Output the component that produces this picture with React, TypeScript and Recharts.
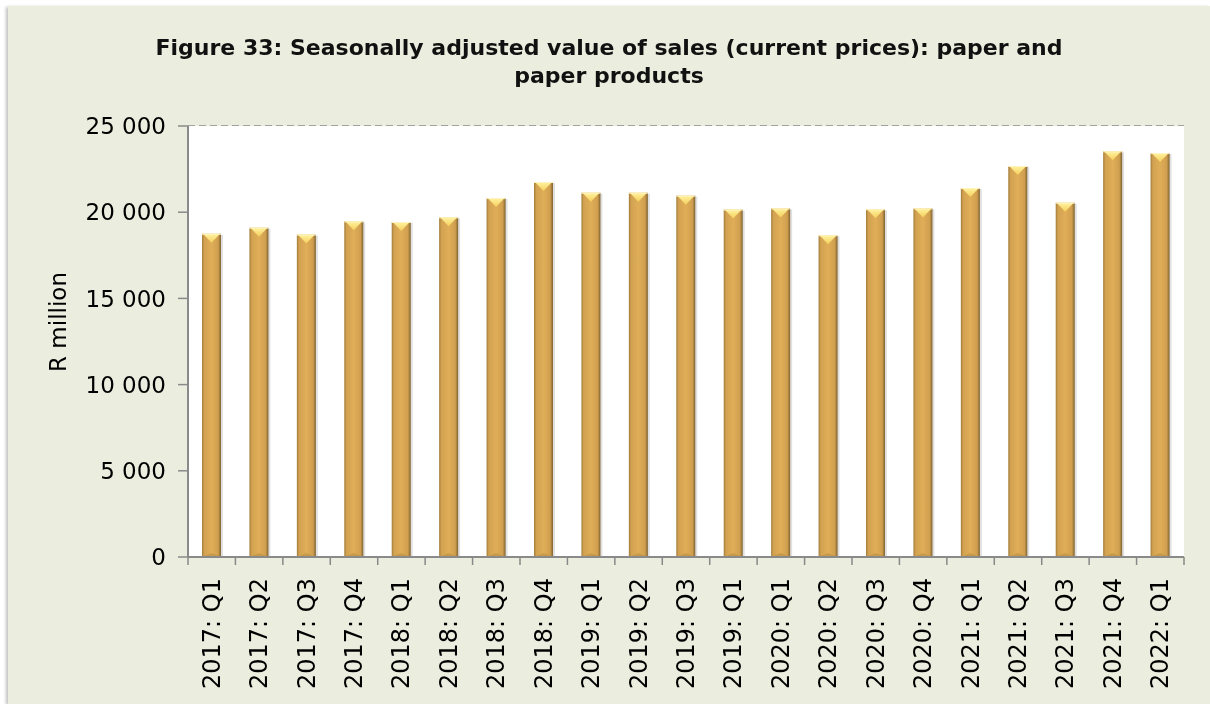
import React from 'react';
import { BarChart, Bar, XAxis, YAxis, CartesianGrid } from 'recharts';

const quarters = [
  '2017: Q1', '2017: Q2', '2017: Q3', '2017: Q4',
  '2018: Q1', '2018: Q2', '2018: Q3', '2018: Q4',
  '2019: Q1', '2019: Q2', '2019: Q3', '2019: Q1',
  '2020: Q1', '2020: Q2', '2020: Q3', '2020: Q4',
  '2021: Q1', '2021: Q2', '2021: Q3', '2021: Q4',
  '2022: Q1',
];
const salesValues = [
  18750, 19100, 18700, 19470,
  19430, 19700, 20820, 21750,
  21130, 21130, 20960, 20150,
  20220, 18660, 20170, 20220,
  21400, 22680, 20550, 23530,
  23430,
];
const yTicks = [0, 5000, 10000, 15000, 20000, 25000];

const data = quarters.map((q, i) => ({ quarter: q, value: salesValues[i] }));

const W = 1202;
const H = 698;
const M = { top: 120, right: 26, left: 0, bottom: 0 };
const Y_AXIS_W = 180;
const X_AXIS_H = 147;
const PLOT_BOTTOM = H - M.bottom - X_AXIS_H;
const STEP = (W - M.left - Y_AXIS_W - M.right) / quarters.length;
const FONT = '"DejaVu Sans", sans-serif';

const fmt = (v: number) => (v === 0 ? '0' : v.toLocaleString('en-US').replace(/,/g, ' '));

const GoldBar = (props: any) => {
  const { x, y, width, height } = props;
  if (!height || height <= 0) return null;
  const bev = Math.min(9, width / 2);
  return (
    <g>
      <rect x={x + 2} y={y + 1} width={width} height={height} fill="#000" opacity={0.12} />
      <rect x={x} y={y} width={width} height={height} fill="url(#goldGrad)" />
      <polygon
        points={`${x + 1},${y} ${x + width - 1},${y} ${x + width / 2},${y + bev}`}
        fill="url(#bevelGrad)"
      />
      <line x1={x} y1={y + 0.5} x2={x + width} y2={y + 0.5} stroke="#fff3c0" strokeWidth={1} />
      <polygon
        points={`${x},${y + height} ${x + width},${y + height} ${x + width / 2},${y + height - 4}`}
        fill="#b8903f"
        opacity={0.6}
      />
    </g>
  );
};

const XTick = (props: any) => {
  const { x, payload, index } = props;
  const isLast = index === quarters.length - 1;
  const ty = PLOT_BOTTOM + 21;
  return (
    <g>
      <line x1={x - STEP / 2} y1={PLOT_BOTTOM} x2={x - STEP / 2} y2={PLOT_BOTTOM + 8} stroke="#888" strokeWidth={1.5} />
      {isLast && (
        <line x1={x + STEP / 2} y1={PLOT_BOTTOM} x2={x + STEP / 2} y2={PLOT_BOTTOM + 8} stroke="#888" strokeWidth={1.5} />
      )}
      <text
        x={x}
        y={ty}
        transform={`rotate(-90, ${x}, ${ty})`}
        textAnchor="end"
        dominantBaseline="central"
        fontFamily={FONT}
        fontSize={24}
        fill="#000"
      >
        {payload.value}
      </text>
    </g>
  );
};

export default function App() {
  return (
    <div
      style={{
        position: 'fixed',
        left: 8,
        top: 6,
        width: W,
        height: H,
        background: '#ebeedf',
        boxShadow: '-2px 1px 3px rgba(0,0,0,0.25)',
      }}
    >
      <div
        style={{
          position: 'absolute',
          left: 0,
          top: 28,
          width: W,
          textAlign: 'center',
          fontFamily: FONT,
          fontWeight: 'bold',
          fontSize: 22,
          lineHeight: '28px',
          color: '#111',
        }}
      >
        Figure 33: Seasonally adjusted value of sales (current prices): paper and
        <br />
        paper products
      </div>
      <div
        style={{
          position: 'absolute',
          left: 50,
          top: 316,
          transform: 'translate(-50%, -50%) rotate(-90deg)',
          fontFamily: FONT,
          fontSize: 23,
          whiteSpace: 'nowrap',
          color: '#000',
        }}
      >
        R million
      </div>
      <BarChart width={W} height={H} data={data} margin={M} barSize={19} style={{ position: 'absolute', left: 0, top: 0 }}>
        <defs>
          <linearGradient id="goldGrad" x1="0" y1="0" x2="1" y2="0">
            <stop offset="0%" stopColor="#a07c3a" />
            <stop offset="12%" stopColor="#d3a251" />
            <stop offset="50%" stopColor="#e0ae58" />
            <stop offset="85%" stopColor="#d09f4f" />
            <stop offset="100%" stopColor="#7e6230" />
          </linearGradient>
          <linearGradient id="bevelGrad" x1="0" y1="0" x2="0" y2="1">
            <stop offset="0%" stopColor="#fff3a0" />
            <stop offset="100%" stopColor="#f5cf5c" />
          </linearGradient>
        </defs>
        <rect x={Y_AXIS_W} y={M.top} width={W - Y_AXIS_W - M.right} height={PLOT_BOTTOM - M.top} fill="#fff" />
        <CartesianGrid vertical={false} stroke="#8a8a8a" strokeWidth={1.5} strokeDasharray="7 4" />
        <XAxis
          dataKey="quarter"
          interval={0}
          height={X_AXIS_H}
          tickLine={false}
          axisLine={{ stroke: '#8a8a8a', strokeWidth: 2 }}
          tick={<XTick />}
        />
        <YAxis
          width={Y_AXIS_W}
          domain={[0, 25000]}
          ticks={yTicks}
          tickFormatter={fmt}
          interval={0}
          tickSize={10}
          tickMargin={12}
          tickLine={{ stroke: '#8a8a8a', strokeWidth: 1.5 }}
          axisLine={{ stroke: '#8a8a8a', strokeWidth: 2 }}
          tick={{ fontFamily: FONT, fontSize: 23, fill: '#000' }}
        />
        <Bar dataKey="value" shape={<GoldBar />} isAnimationActive={false} />
      </BarChart>
    </div>
  );
}
